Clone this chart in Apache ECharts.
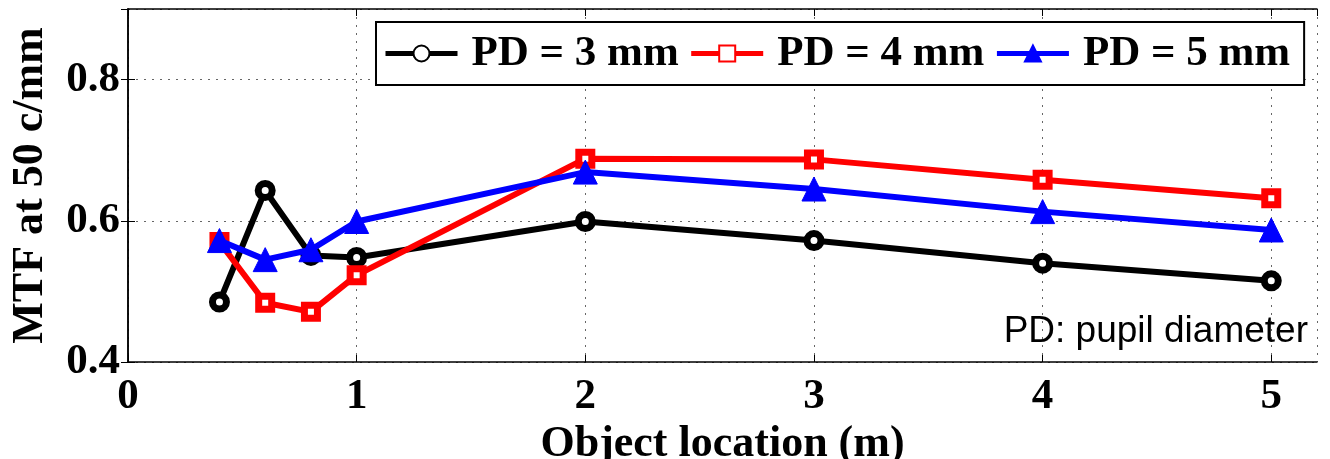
<!DOCTYPE html>
<html>
<head>
<meta charset="utf-8">
<script src="https://cdn.jsdelivr.net/npm/echarts@6/dist/echarts.min.js"></script>
<style>
html,body{margin:0;padding:0;background:#fff;}
#chart{width:1330px;height:459px;}
</style>
</head>
<body>
<div id="chart"></div>
<script>
var xValues = [0.4, 0.6, 0.8, 1, 2, 3, 4, 5];
var pd3 = [0.485, 0.643, 0.551, 0.548, 0.599, 0.572, 0.540, 0.515];
var pd4 = [0.570, 0.484, 0.471, 0.523, 0.688, 0.687, 0.658, 0.632];
var pd5 = [0.572, 0.545, 0.559, 0.599, 0.669, 0.645, 0.613, 0.587];
var seriesNames = ['PD = 3 mm', 'PD = 4 mm', 'PD = 5 mm'];
var xAxisTitle = 'Object location (m)';
var yAxisTitle = 'MTF at 50 c/mm';
var noteText = 'PD: pupil diameter';

function pairs(ys){ return xValues.map(function(x,i){ return [x, ys[i]]; }); }

var serif = '"Liberation Serif","Times New Roman",serif';
var gridLine = {show:true, lineStyle:{color:'#666', type:[2,6], width:1}};

var chart = echarts.init(document.getElementById('chart'), null, {renderer:'canvas'});
chart.setOption({
  animation:false,
  backgroundColor:'#fff',
  grid:{left:128, right:13, top:9, bottom:97, containLabel:false, outerBoundsMode:'none'},
  title:{text:noteText, right:17, top:308, textStyle:{fontFamily:'"Liberation Sans",Arial,sans-serif', fontWeight:'normal', fontSize:37, color:'#000'}},
  legend:{
    data:seriesNames, left:376, top:22,
    orient:'horizontal',
    backgroundColor:'#fff', borderColor:'#000', borderWidth:2,
    padding:[10,14,10,7], itemGap:10, itemWidth:72, itemHeight:20,
    lineStyle:{width:5},
    textStyle:{fontFamily:serif, fontWeight:'bold', fontSize:43, color:'#000', padding:[0,0,0,9]}
  },
  xAxis:[{
    type:'value', min:0, max:5.2, interval:1,
    axisLine:{show:true, lineStyle:{color:'#000', width:1.5}},
    axisTick:{show:true, inside:true, length:7, lineStyle:{color:'#000', width:1}},
    axisLabel:{fontFamily:serif, fontWeight:'bold', fontSize:43, color:'#000', margin:13, showMaxLabel:false,
      formatter:function(v){ return (Math.abs(v-Math.round(v))<1e-9)? String(Math.round(v)) : ''; }},
    splitLine:gridLine,
    name:xAxisTitle, nameLocation:'middle', nameGap:55,
    nameTextStyle:{fontFamily:serif, fontWeight:'bold', fontSize:44, color:'#000'}
  },{
    type:'value', min:0, max:5.2, interval:1, position:'top',
    axisLine:{show:true, lineStyle:{color:'#000', width:1.5}},
    axisTick:{show:true, inside:true, length:7, lineStyle:{color:'#000', width:1}},
    axisLabel:{show:false}, splitLine:{show:false}
  }],
  yAxis:[{
    type:'value', min:0.4, max:0.9, interval:0.2,
    axisLine:{show:true, lineStyle:{color:'#000', width:1.5}},
    axisTick:{show:true, inside:true, length:7, lineStyle:{color:'#000', width:1}},
    axisLabel:{fontFamily:serif, fontWeight:'bold', fontSize:43, color:'#000', margin:8, showMaxLabel:false,
      formatter:function(v){ return v>0.85? '' : v.toFixed(1); }},
    splitLine:gridLine,
    name:yAxisTitle, nameLocation:'middle', nameGap:75,
    nameTextStyle:{fontFamily:serif, fontWeight:'bold', fontSize:44, color:'#000'}
  },{
    type:'value', min:0.4, max:0.9, interval:0.2, position:'right',
    axisLine:{show:true, lineStyle:{color:'#000', width:1.5}},
    axisTick:{show:true, inside:true, length:7, lineStyle:{color:'#000', width:1}},
    axisLabel:{show:false}, splitLine:{show:false}
  }],
  series:[{
    name:seriesNames[0], type:'line', data:pairs(pd3),
    lineStyle:{color:'#000', width:6}, symbol:'circle', symbolSize:14,
    itemStyle:{color:'#fff', borderColor:'#000', borderWidth:7}, z:3
  },{
    name:seriesNames[1], type:'line', data:pairs(pd4),
    lineStyle:{color:'#ff0000', width:6}, symbol:'rect', symbolSize:13,
    itemStyle:{color:'#fff', borderColor:'#ff0000', borderWidth:7}, z:4
  },{
    name:seriesNames[2], type:'line', data:pairs(pd5),
    lineStyle:{color:'#0000ff', width:6}, symbol:'triangle', symbolSize:24,
    itemStyle:{color:'#0000ff', borderColor:'#0000ff', borderWidth:1}, z:5
  }]
});
</script>
</body>
</html>
